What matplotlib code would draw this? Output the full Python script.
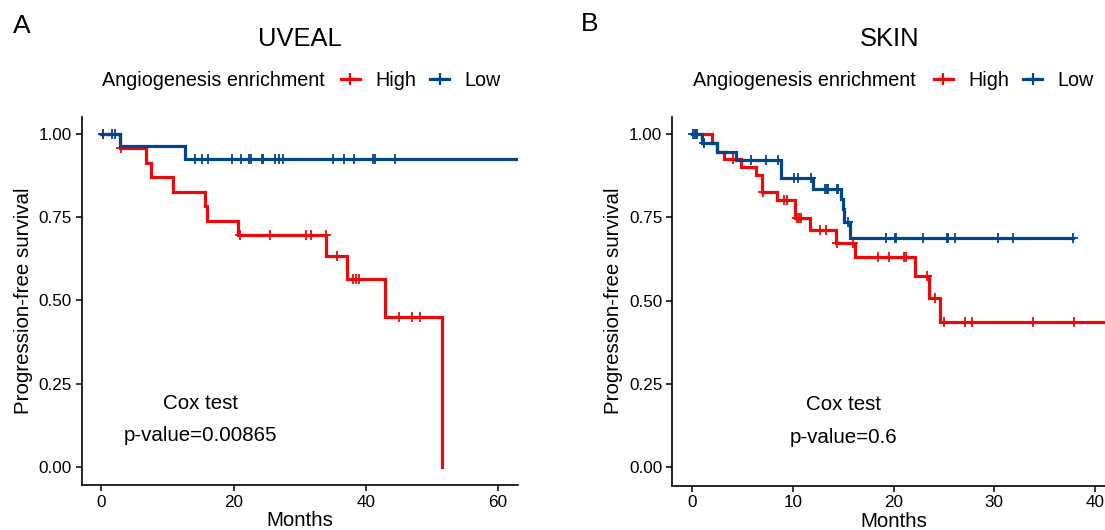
import numpy as np
import matplotlib
matplotlib.use("Agg")
from matplotlib import pyplot as plt

plt.rcParams['font.family'] = ['Liberation Sans', 'DejaVu Sans']

RED = '#EA0A0A'
BLUE = '#00468B'

# UVEAL, high angiogenesis enrichment
uveal_high_times = [2.8, 6.75, 7.55, 10.8, 15.6, 16.0, 20.6, 34.0, 37.1, 42.9, 51.5]
uveal_high_surv = [0.957, 0.913, 0.870, 0.826, 0.783, 0.739, 0.696, 0.633, 0.563, 0.451, 0.0]
uveal_high_cens = [0.25, 2.9, 20.9, 25.5, 31.0, 31.7, 33.9, 35.6, 38.0, 38.5, 39.0, 45.0, 47.0, 48.2]
uveal_high_end = 51.5

# UVEAL, low
uveal_low_times = [2.8, 12.7]
uveal_low_surv = [0.964, 0.926]
uveal_low_cens = [0.25, 1.6, 2.1, 14.1, 15.2, 16.2, 19.7, 21.1, 22.4, 22.7, 24.3, 24.5,
                  26.3, 26.9, 27.5, 35.1, 36.7, 38.2, 41.1, 41.4, 44.4]
uveal_low_end = 63.0

# SKIN, high
skin_high_times = [2.0, 2.5, 3.2, 4.9, 6.3, 6.9, 8.4, 10.2, 11.7, 14.3, 16.2, 22.1, 23.5, 24.6]
skin_high_surv = [0.972, 0.947, 0.924, 0.902, 0.877, 0.827, 0.802, 0.747, 0.712, 0.674,
                  0.630, 0.574, 0.509, 0.437]
skin_high_cens = [0.4, 4.1, 7.0, 9.1, 9.4, 10.4, 10.6, 10.8, 12.7, 13.3, 14.4, 16.0, 18.5,
                  19.6, 21.0, 21.2, 23.3, 24.1, 25.0, 27.1, 27.8, 33.9, 37.9]
skin_high_end = 43.0

# SKIN, low
skin_low_times = [0.96, 2.45, 4.4, 8.8, 12.0, 14.8, 15.0, 15.1, 15.7]
skin_low_surv = [0.972, 0.947, 0.922, 0.867, 0.834, 0.806, 0.775, 0.737, 0.687]
skin_low_cens = [0.1, 0.3, 0.5, 1.2, 5.8, 7.3, 8.5, 10.1, 10.5, 11.8, 13.2, 13.4, 13.5, 14.4,
                 14.5, 15.5, 19.3, 20.1, 20.2, 22.9, 25.3, 25.4, 26.1, 30.4, 31.9, 37.8]
skin_low_end = 37.8

fs_tick = 12.3
fs_lab = 14.8
fs_leg = 14.2
fs_title = 18.4


def km(ax, times, surv, cens, end, color):
    t = np.array([0.0] + list(times) + [end])
    s = np.array([1.0] + list(surv) + [surv[-1]])
    ax.step(t, s, where='post', color=color, lw=2.3, solid_joinstyle='miter')
    c = np.array(cens)
    idx = np.searchsorted(t[:-1], c, side='right') - 1
    ax.plot(c, s[idx], ls='none', marker='+', ms=7.5, mew=1.3, color=color)
    # legend handle
    return ax.plot([], [], color=color, lw=2.3, marker='+', ms=9, mew=1.6)[0]


def style(ax, xlim, xticks):
    ax.set_xlim(*xlim)
    ax.set_ylim(-0.055, 1.051)
    ax.set_xticks(xticks)
    ax.set_yticks([0, 0.25, 0.5, 0.75, 1.0])
    ax.set_yticklabels(['0.00', '0.25', '0.50', '0.75', '1.00'])
    for sp in ['top', 'right']:
        ax.spines[sp].set_visible(False)
    for sp in ['left', 'bottom']:
        ax.spines[sp].set_linewidth(1.2)
    ax.tick_params(length=4.5, width=1.1, labelsize=fs_tick, pad=2.5, colors='black')
    ax.set_xlabel('Months', fontsize=fs_lab, labelpad=1)
    ax.set_ylabel('Progression-free survival', fontsize=fs_lab, labelpad=4)


fig = plt.figure(figsize=(11.05, 5.3), dpi=100)
W, H = 1105.0, 530.0

axL = fig.add_axes([81.5 / W, 1 - 485 / H, (518 - 81.5) / W, (485 - 117) / H])
hH = km(axL, uveal_high_times, uveal_high_surv, uveal_high_cens, uveal_high_end, RED)
hL = km(axL, uveal_low_times, uveal_low_surv, uveal_low_cens, uveal_low_end, BLUE)
style(axL, (-3, 63), [0, 20, 40, 60])
axL.text(15, 0.19, 'Cox test', ha='center', va='center', fontsize=fs_lab)
axL.text(15, 0.095, 'p-value=0.00865', ha='center', va='center', fontsize=fs_lab)

axR = fig.add_axes([672 / W, 1 - 485.5 / H, (1115 - 672) / W, (485.5 - 117) / H])
gH = km(axR, skin_high_times, skin_high_surv, skin_high_cens, skin_high_end, RED)
gL = km(axR, skin_low_times, skin_low_surv, skin_low_cens, skin_low_end, BLUE)
style(axR, (-2, 42), [0, 10, 20, 30, 40])
axR.text(15, 0.187, 'Cox test', ha='center', va='center', fontsize=fs_lab)
axR.text(15, 0.09, 'p-value=0.6', ha='center', va='center', fontsize=fs_lab)

# titles and panel letters
fig.text(300 / W, 1 - 39 / H, 'UVEAL', ha='center', va='center', fontsize=fs_title)
fig.text(890 / W, 1 - 39 / H, 'SKIN', ha='center', va='center', fontsize=fs_title)
fig.text(22 / W, 1 - 26 / H, 'A', ha='center', va='center', fontsize=19)
fig.text(590 / W, 1 - 24 / H, 'B', ha='center', va='center', fontsize=19)

# legends
for x0, hx, handles in [(102.5, 341, [hH, hL]), (693, 934, [gH, gL])]:
    fig.text(x0 / W, 1 - 80 / H, 'Angiogenesis enrichment', ha='left', va='center',
             fontsize=fs_leg)
    fig.legend(handles, ['High', 'Low'], ncol=2, loc='center left',
               bbox_to_anchor=(hx / W, 1 - 80 / H), frameon=False, fontsize=fs_leg,
               handlelength=0.95, handletextpad=0.8, columnspacing=0.7,
               borderpad=0, borderaxespad=0, numpoints=1)

fig.savefig('out.png', dpi=100)
